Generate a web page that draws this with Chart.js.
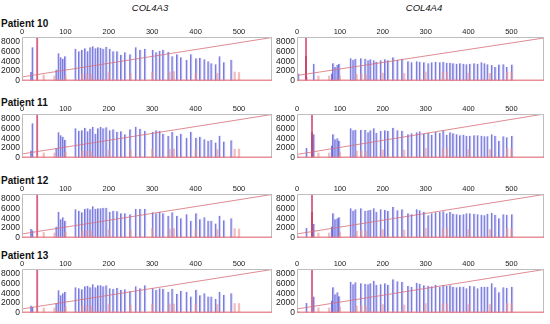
<!DOCTYPE html>
<html><head><meta charset="utf-8">
<script src="https://cdn.jsdelivr.net/npm/chart.js@4.4.1/dist/chart.umd.min.js"></script>
<style>
html,body{margin:0;padding:0;background:#fff}
#wrap{position:relative;width:550px;height:324px;overflow:hidden;font-family:"Liberation Sans",Arial,sans-serif;color:#111}
.gene{position:absolute;top:3px;font-style:italic;font-size:9.5px;line-height:10px;transform:translateX(-50%);white-space:nowrap}
.pat{position:absolute;left:1px;font-weight:bold;font-size:10px;line-height:10px;white-space:nowrap}
.box{position:absolute;width:275px;height:62px}
</style></head>
<body><div id="wrap"></div>
<script>
// ---------- data ----------
const geneNames = ['COL4A3', 'COL4A4'];
const patientNames = ['Patient 10', 'Patient 11', 'Patient 12', 'Patient 13'];
const xTickValues = [0, 100, 200, 300, 400, 500];
const yTickValues = [0, 2000, 4000, 6000, 8000];
const sizeStandardBp = [50, 75, 100, 139, 150, 160, 200, 250, 300, 340, 350, 400, 450, 490, 500];

const col4a3PeakBp = [22, 25, 80, 85, 90, 95, 100, 124, 132, 139, 146, 152, 158, 164, 170, 176, 182, 188, 195, 203, 211, 220, 229, 238, 250, 263, 273, 284, 302, 310, 318, 326, 338, 347, 358, 367, 380, 390, 402, 411, 421, 430, 437, 447, 456, 466, 483];
const col4a4PeakBp = [4, 23, 40, 82, 85, 90, 95, 99, 126, 132, 137, 150, 160, 167, 172, 180, 186, 196, 206, 213, 225, 235, 246, 260, 268, 280, 287, 297, 307, 315, 324, 334, 342, 350, 358, 365, 373, 381, 389, 396, 404, 414, 422, 431, 438, 445, 455, 463, 472, 482, 490, 502];

const p10Col4a3Height = [1800, 6800, 2300, 5600, 4800, 4500, 5000, 6500, 6000, 6300, 6600, 6000, 6800, 7000, 6600, 6800, 6700, 6500, 6900, 6500, 6000, 6000, 5300, 5800, 5400, 6800, 6300, 6500, 6300, 5800, 6100, 6300, 5900, 5000, 5400, 4800, 4300, 5400, 4600, 4700, 4400, 4000, 3600, 3400, 5000, 3800, 4300];
const p11Col4a3Height = [1500, 7000, 2000, 5200, 4600, 4300, 3700, 6000, 5500, 5600, 6100, 5400, 5900, 6300, 4900, 6000, 6300, 6000, 6200, 5600, 5800, 5300, 5400, 4800, 5800, 6300, 5900, 5500, 5300, 5600, 5500, 4900, 4500, 5300, 4500, 4900, 4100, 5300, 4100, 4300, 3800, 3500, 3700, 3100, 4500, 3300, 3600];
const p12Col4a3Height = [1800, 1500, 2300, 5300, 3800, 4200, 3500, 5800, 5500, 5200, 5900, 6000, 5800, 6400, 5900, 6000, 6000, 6100, 6100, 5300, 5500, 5400, 5000, 5000, 4800, 5900, 5900, 5900, 5200, 5000, 5300, 5000, 4500, 5200, 4500, 4000, 4800, 3500, 5000, 3800, 4200, 3500, 3500, 2900, 4500, 3600, 4000];
const p13Col4a3Height = [1500, 1200, 2000, 4600, 3600, 4000, 4300, 5200, 5000, 4800, 5400, 5500, 5200, 5800, 5200, 5600, 5600, 5400, 5600, 5000, 4900, 5100, 4700, 4800, 4400, 5400, 5000, 5600, 5000, 4700, 5000, 4900, 4300, 4900, 3900, 4500, 4300, 3300, 4700, 3600, 4000, 3300, 3300, 2800, 4300, 3700, 4000];

const p10Col4a4Height = [1500, 800, 3500, 1500, 3600, 2800, 3200, 3500, 4600, 4300, 4500, 4600, 4500, 4200, 4400, 4200, 3900, 4200, 4400, 4200, 4800, 4300, 4500, 4000, 3800, 4000, 3900, 3800, 3600, 3800, 3900, 3800, 3900, 3700, 3700, 3600, 3500, 3600, 3500, 3400, 3500, 3600, 3500, 3800, 3600, 3400, 3200, 2800, 3300, 3400, 2800, 3300];
const p11Col4a4Height = [300, 2000, 4800, 2500, 4800, 3800, 4000, 3500, 6000, 5600, 5700, 5700, 5700, 5200, 5600, 6000, 5100, 5500, 5600, 5500, 6100, 5600, 5500, 4800, 5000, 5200, 5400, 4900, 5100, 4700, 5300, 5100, 5600, 4700, 5200, 5000, 4800, 4600, 4700, 4500, 4500, 4600, 4600, 4500, 4400, 4400, 4800, 4500, 3500, 4400, 4200, 4500];
const p12Col4a4Height = [300, 2000, 2800, 2300, 5000, 3800, 4000, 4200, 6000, 5500, 5800, 6000, 5500, 5600, 5700, 6000, 5300, 5800, 5700, 5500, 6300, 5600, 5800, 5000, 4800, 5800, 5600, 5300, 4600, 5000, 5200, 5300, 5400, 5000, 5300, 4900, 4800, 4700, 4800, 5000, 5000, 4900, 4800, 4700, 4600, 4900, 5100, 4700, 4000, 4800, 4700, 4800];
const p13Col4a4Height = [300, 2000, 3300, 2500, 5200, 3800, 4200, 3400, 6300, 5800, 6200, 6000, 5900, 5800, 6000, 6500, 5700, 5800, 6000, 5700, 6800, 6400, 6300, 5500, 5300, 6100, 5900, 5600, 5500, 5400, 5700, 5300, 5700, 5500, 5600, 5300, 5200, 5300, 5300, 5000, 5500, 5400, 5000, 5300, 5300, 5300, 6000, 5200, 4200, 5200, 5100, 5300];

const p10Col4a3Std = [1200, 1000, 1000, 1400, 1500, 1300, 1700, 1500, 1800, 1800, 1900, 1500, 1500, 1800, 1700];
const p11Col4a3Std = [1000, 1000, 1200, 1400, 1400, 1300, 1600, 1600, 1800, 1700, 1800, 1700, 1700, 1800, 1800];
const p12Col4a3Std = [1100, 1000, 1200, 1400, 1500, 1400, 1700, 1600, 1900, 1800, 1900, 1700, 1700, 1900, 1800];
const p13Col4a3Std = [1000, 1000, 1200, 1400, 1500, 1400, 1700, 1600, 1800, 1800, 1800, 1700, 1700, 1900, 1900];
const p10Col4a4Std = [1000, 1000, 1000, 1300, 1400, 1300, 1600, 1500, 1800, 1800, 1800, 1600, 1500, 1800, 1800];
const p11Col4a4Std = [1000, 1000, 1200, 1400, 1400, 1300, 1600, 1600, 1900, 1800, 1900, 1700, 1700, 1900, 1900];
const p12Col4a4Std = [1000, 1000, 1200, 1400, 1500, 1400, 1700, 1600, 1900, 1800, 1900, 1700, 1700, 1900, 1900];
const p13Col4a4Std = [1000, 1000, 1200, 1400, 1500, 1400, 1700, 1600, 1900, 1800, 1900, 1700, 1700, 1900, 1900];

// panels order: P10 A3, P10 A4, P11 A3, P11 A4, P12 A3, P12 A4, P13 A3, P13 A4
const primerPeakBp = [35, 21, 35, 35, 35, 35, 35, 35];
const primerPeakHeight = [9500, 9500, 9500, 9500, 9500, 9500, 9500, 9500];
const darkPeakHeight = [0, 5000, 0, 5200, 0, 5200, 0, 0];
const calibLineStart = [800, 1100, 800, 700, 800, 800, 800, 800];
const calibLineEnd = [8800, 8700, 8800, 8900, 8800, 8800, 8800, 8800];
const calibLineBp = [0, 576];

// ---------- layout ----------
const X_MAX = 576, Y_MAX = 8900;
const rowTops = [26, 103, 183, 258];
const colLefts = [0, 275];
const patientLabelTops = [19, 97.5, 176, 250.5];
const FONT = '"Liberation Sans", Arial, sans-serif';

const wrap = document.getElementById('wrap');
geneNames.forEach((g, c) => {
  const d = document.createElement('div');
  d.className = 'gene'; d.textContent = g;
  d.style.left = (c === 0 ? 150 : 424) + 'px';
  wrap.appendChild(d);
});
patientNames.forEach((p, r) => {
  const d = document.createElement('div');
  d.className = 'pat'; d.textContent = p;
  d.style.top = patientLabelTops[r] + 'px';
  wrap.appendChild(d);
});

const heightsByPanel = [p10Col4a3Height, p10Col4a4Height, p11Col4a3Height, p11Col4a4Height, p12Col4a3Height, p12Col4a4Height, p13Col4a3Height, p13Col4a4Height];
const stdByPanel = [p10Col4a3Std, p10Col4a4Std, p11Col4a3Std, p11Col4a4Std, p12Col4a3Std, p12Col4a4Std, p13Col4a3Std, p13Col4a4Std];

const framePlugin = {
  id: 'frame',
  afterDatasetsDraw(chart) {
    const { ctx, chartArea: a } = chart;
    ctx.save();
    ctx.lineWidth = 1;
    ctx.strokeStyle = '#bdbdbd';
    ctx.beginPath();
    ctx.moveTo(a.left + 0.5, a.bottom); ctx.lineTo(a.left + 0.5, a.top + 0.5);
    ctx.lineTo(a.right - 0.5, a.top + 0.5); ctx.lineTo(a.right - 0.5, a.bottom);
    ctx.stroke();
    ctx.strokeStyle = 'rgba(230,125,135,0.85)';
    ctx.lineWidth = 1.5;
    ctx.beginPath();
    ctx.moveTo(a.left, a.bottom - 0.75); ctx.lineTo(a.right, a.bottom - 0.75);
    ctx.stroke();
    ctx.restore();
  }
};

for (let r = 0; r < 4; r++) {
  for (let c = 0; c < 2; c++) {
    const k = r * 2 + c;
    const peaks = c === 0 ? col4a3PeakBp : col4a4PeakBp;
    const box = document.createElement('div');
    box.className = 'box';
    box.style.left = colLefts[c] + 'px';
    box.style.top = rowTops[r] + 'px';
    const cv = document.createElement('canvas');
    cv.width = 275; cv.height = 62;
    cv.style.width = '275px'; cv.style.height = '62px';
    box.appendChild(cv);
    wrap.appendChild(box);

    const datasets = [
      {
        type: 'line', order: 0,
        data: calibLineBp.map((x, i) => ({ x, y: i === 0 ? calibLineStart[k] : calibLineEnd[k] })),
        borderColor: 'rgba(215,110,120,0.8)', borderWidth: 1, pointRadius: 0, fill: false
      },
      {
        type: 'bar', order: 1,
        data: [{ x: primerPeakBp[k], y: primerPeakHeight[k] }],
        backgroundColor: 'rgba(210,70,110,0.85)', barThickness: 1.2, grouped: false
      },
      {
        type: 'bar', order: 2,
        data: [{ x: primerPeakBp[k], y: darkPeakHeight[k] }],
        backgroundColor: 'rgba(150,30,60,0.85)', barThickness: 1.2, grouped: false
      },
      {
        type: 'bar', order: 3,
        data: sizeStandardBp.map((x, i) => ({ x, y: stdByPanel[k][i] })),
        backgroundColor: 'rgba(235,145,145,0.6)', barThickness: 1.6, grouped: false
      },
      {
        type: 'bar', order: 4,
        data: peaks.map((x, i) => ({ x, y: heightsByPanel[k][i] })),
        backgroundColor: 'rgba(150,150,235,0.4)',
        borderColor: 'rgba(75,75,210,0.75)',
        borderWidth: { left: 0.9, right: 0, top: 0, bottom: 0 },
        borderSkipped: false,
        barThickness: 2.2, grouped: false
      }
    ];

    new Chart(cv, {
      type: 'bar',
      data: { datasets },
      options: {
        responsive: false, animation: false, events: [],
        layout: { padding: { left: 0, right: c === 0 ? 3 : 6, top: 0, bottom: 1 } },
        plugins: { legend: { display: false }, tooltip: { enabled: false } },
        scales: {
          x: {
            type: 'linear', position: 'top', min: 0, max: X_MAX, offset: false,
            afterBuildTicks: s => { s.ticks = xTickValues.map(v => ({ value: v })); },
            afterFit: s => { s.height = 11; },
            grid: { display: false, drawTicks: false }, border: { display: false },
            ticks: { font: { size: 7.5, family: FONT }, color: '#222', padding: 1, maxRotation: 0, autoSkip: false, callback: v => String(v) }
          },
          y: {
            type: 'linear', min: 0, max: Y_MAX,
            afterBuildTicks: s => { s.ticks = yTickValues.map(v => ({ value: v })); },
            afterFit: s => { s.width = 22; },
            grid: { display: false, drawTicks: false }, border: { display: false },
            ticks: { font: { size: 8.5, family: FONT }, color: '#222', padding: 2, autoSkip: false, callback: v => String(v) }
          }
        }
      },
      plugins: [framePlugin]
    });
  }
}
</script>
</body></html>
